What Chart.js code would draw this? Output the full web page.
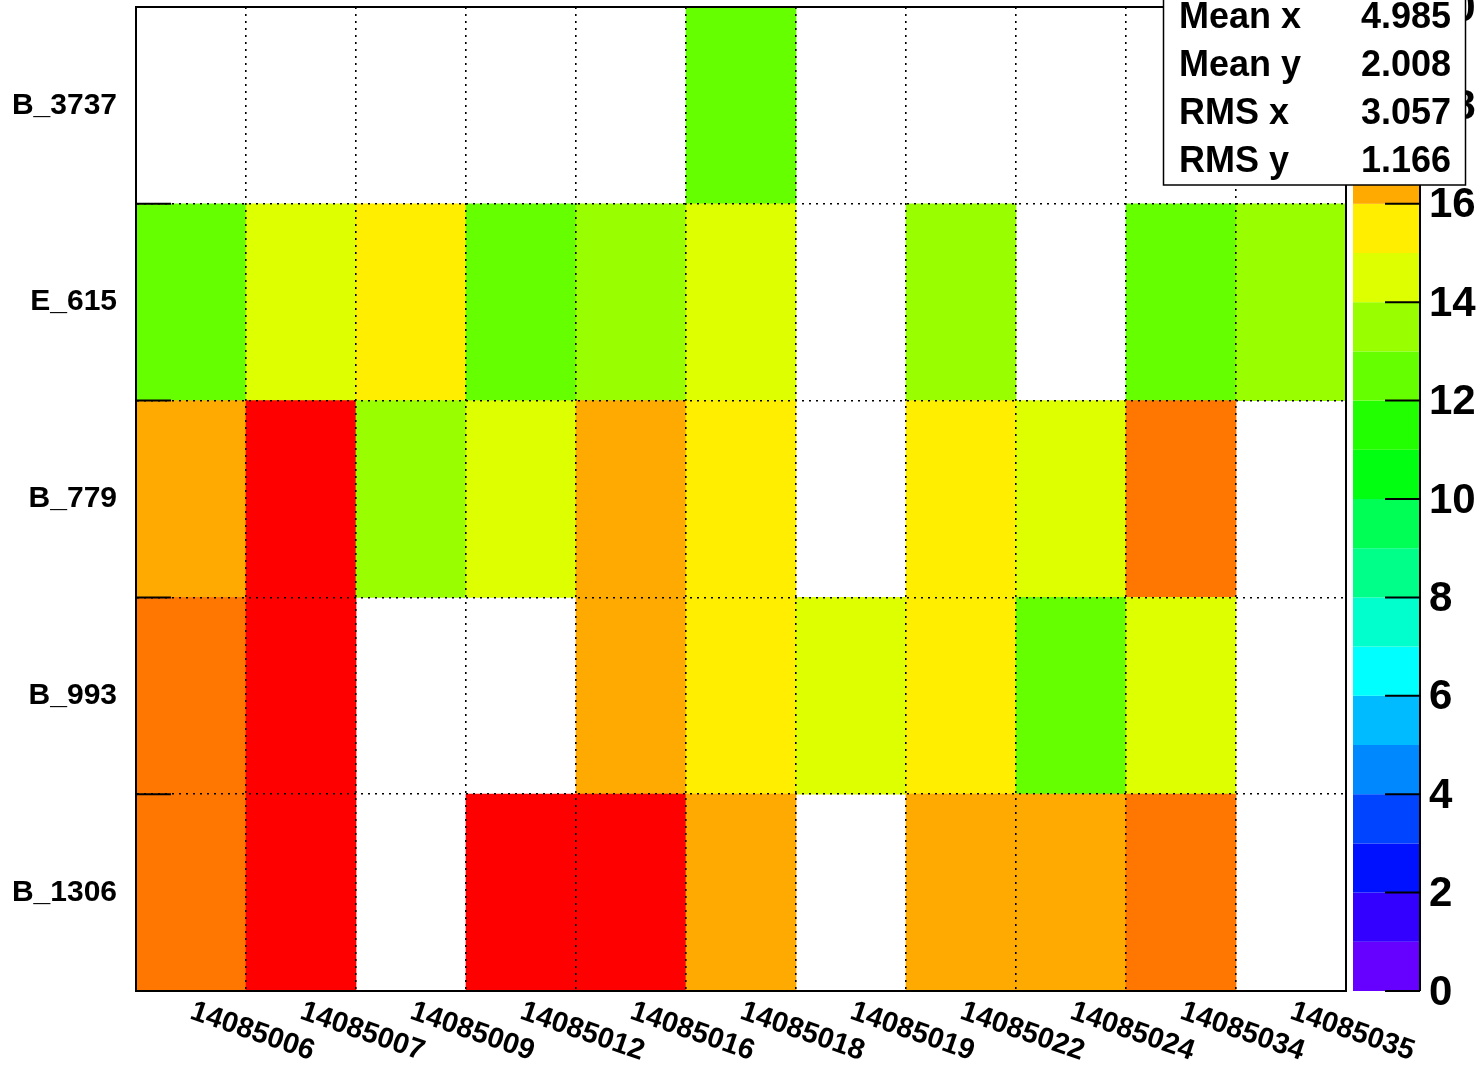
<!DOCTYPE html>
<html>
<head>
<meta charset="utf-8">
<script src="https://cdn.jsdelivr.net/npm/chart.js@4/dist/chart.umd.min.js"></script>
<style>
  body { margin: 0; background: #fff; }
  #wrap { width: 1481px; height: 1071px; }
</style>
</head>
<body>
<div id="wrap"><canvas id="myChart" width="1481" height="1071"></canvas></div>
<script>
// run numbers along x
var runs = ['14085006', '14085007', '14085009', '14085012', '14085016', '14085018',
            '14085019', '14085022', '14085024', '14085034', '14085035'];
// rows, bottom to top
var rows = ['B_1306', 'B_993', 'B_779', 'E_615', 'B_3737'];

// cell contents per row (null = empty bin)
var B_1306 = [18, 20, null, 20, 20, 16, null, 16, 16, 18, null];
var B_993  = [18, 20, null, null, 16, 15, 14, 15, 12, 14, null];
var B_779  = [16, 20, 13, 14, 16, 15, null, 15, 14, 18, null];
var E_615  = [12, 14, 15, 12, 13, 14, null, 13, null, 12, 13];
var B_3737 = [null, null, null, null, null, 12, null, null, null, null, null];

var zTicks = [0, 2, 4, 6, 8, 10, 12, 14, 16, 18, 20];
var statNames = ['Mean x', 'Mean y', 'RMS x', 'RMS y'];
var statValues = ['4.985', '2.008', '3.057', '1.166'];

// 20 colour bands, one per unit from 0 to 20
var palette = ['#6600ff', '#3300ff', '#0011ff', '#0044ff', '#0088ff', '#00bbff', '#00ffff',
               '#00ffcc', '#00ff88', '#00ff55', '#00ff11', '#22ff00', '#66ff00', '#99ff00',
               '#ddff00', '#ffee00', '#ffaa00', '#ff8800', '#ff7700', '#ff0000'];
var zMin = 0, zMax = 20;

var FONT = '"Liberation Sans", Arial, sans-serif';

function colorFor(v) {
    if (v === null || v === undefined) return 'rgba(0,0,0,0)';
    var band = Math.floor((v - zMin) / (zMax - zMin) * palette.length);
    if (band >= palette.length) band = palette.length - 1;
    if (band < 0) band = 0;
    return palette[band];
}

var rowValues = [B_1306, B_993, B_779, E_615, B_3737];
var datasets = rowValues.map(function(vals, r) {
    return {
        label: rows[r],
        data: vals.map(function(v) { return v === null ? null : [r, r + 1]; }),
        backgroundColor: vals.map(colorFor),
        borderWidth: 0,
        barPercentage: 1.0,
        categoryPercentage: 1.0,
        grouped: false
    };
});

var dotted = [2, 5];

var extras = {
    id: 'extras',
    afterDraw: function(chart) {
        var ctx = chart.ctx;
        var a = chart.chartArea;
        var xs = chart.scales.x;
        var ys = chart.scales.y;
        var zs = chart.scales.yz;
        ctx.save();

        // frame
        ctx.strokeStyle = '#000';
        ctx.lineWidth = 2;
        ctx.strokeRect(a.left, a.top, a.right - a.left, a.bottom - a.top);

        // short inward ticks on the left axis
        for (var i = 1; i < rows.length; i++) {
            var py = ys.getPixelForValue(i);
            ctx.beginPath();
            ctx.moveTo(a.left, py);
            ctx.lineTo(a.left + 35, py);
            ctx.stroke();
        }

        // x labels, tilted
        ctx.fillStyle = '#000';
        ctx.font = 'bold 29px ' + FONT;
        ctx.textAlign = 'left';
        ctx.textBaseline = 'top';
        for (var j = 0; j < runs.length; j++) {
            var px = xs.getPixelForValue(j);
            ctx.save();
            ctx.translate(px + 5, a.bottom + 6);
            ctx.rotate(19 * Math.PI / 180);
            ctx.fillText(runs[j], 0, 0);
            ctx.restore();
        }

        // colour bar
        var barL = a.right + 7, barR = a.right + 74;
        for (var k = 0; k < palette.length; k++) {
            var y0 = zs.getPixelForValue(zMin + k);
            var y1 = zs.getPixelForValue(zMin + k + 1);
            ctx.fillStyle = palette[k];
            ctx.fillRect(barL, y1, barR - barL, y0 - y1);
        }
        ctx.strokeStyle = '#000';
        ctx.lineWidth = 2;
        ctx.beginPath();
        ctx.moveTo(barR, zs.getPixelForValue(zMin));
        ctx.lineTo(barR, zs.getPixelForValue(zMax));
        ctx.stroke();
        ctx.fillStyle = '#000';
        ctx.font = 'bold 42px ' + FONT;
        ctx.textAlign = 'left';
        ctx.textBaseline = 'middle';
        zTicks.forEach(function(t) {
            var ty = zs.getPixelForValue(t);
            ctx.beginPath();
            ctx.moveTo(barR - 35, ty);
            ctx.lineTo(barR, ty);
            ctx.stroke();
            ctx.fillText(String(t), barR + 9, ty + 2);
        });

        // stats box
        ctx.fillStyle = '#fff';
        ctx.fillRect(1163, -60, 302, 245);
        ctx.lineWidth = 1.5;
        ctx.strokeRect(1163.5, -60, 302, 245);
        ctx.fillStyle = '#000';
        ctx.font = 'bold 36px ' + FONT;
        ctx.textBaseline = 'middle';
        for (var s = 0; s < statNames.length; s++) {
            var sy = 18 + s * 48;
            ctx.textAlign = 'left';
            ctx.fillText(statNames[s], 1179, sy);
            ctx.textAlign = 'right';
            ctx.fillText(statValues[s], 1451, sy);
        }
        ctx.restore();
    }
};

var ctx = document.getElementById('myChart').getContext('2d');
var myChart = new Chart(ctx, {
    type: 'bar',
    data: {
        labels: runs,
        datasets: datasets
    },
    options: {
        responsive: false,
        animation: false,
        events: [],
        layout: { padding: { top: 7, right: 135, left: 0, bottom: 0 } },
        plugins: {
            legend: { display: false },
            tooltip: { enabled: false }
        },
        scales: {
            x: {
                type: 'category',
                offset: true,
                grid: { offset: true, color: '#000', lineWidth: 1.6, drawTicks: false, z: 1 },
                border: { display: true, color: '#000', width: 2, dash: dotted, z: 1 },
                ticks: { display: false },
                afterFit: function(scale) { scale.height = 80; }
            },
            y: {
                type: 'linear',
                position: 'left',
                min: 0,
                max: rows.length,
                grid: { color: '#000', lineWidth: 1.6, drawTicks: false, z: 1 },
                border: { display: true, color: '#000', width: 2, dash: dotted, z: 1 },
                ticks: { display: false, stepSize: 1 },
                afterFit: function(scale) {
                    scale.width = 0;
                    scale.paddingTop = 0;
                    scale.paddingBottom = 0;
                }
            },
            yl: {
                type: 'category',
                axis: 'y',
                position: 'left',
                labels: rows.slice().reverse(),
                offset: true,
                grid: { display: false, drawTicks: false },
                border: { display: false },
                ticks: {
                    color: '#000',
                    padding: 19,
                    font: { family: FONT, size: 30, weight: 'bold' }
                },
                afterFit: function(scale) {
                    scale.width = 136;
                    scale.paddingTop = 0;
                    scale.paddingBottom = 0;
                }
            },
            yz: {
                type: 'linear',
                axis: 'y',
                position: 'right',
                display: false,
                min: zMin,
                max: zMax
            }
        }
    },
    plugins: [extras]
});
</script>
</body>
</html>
